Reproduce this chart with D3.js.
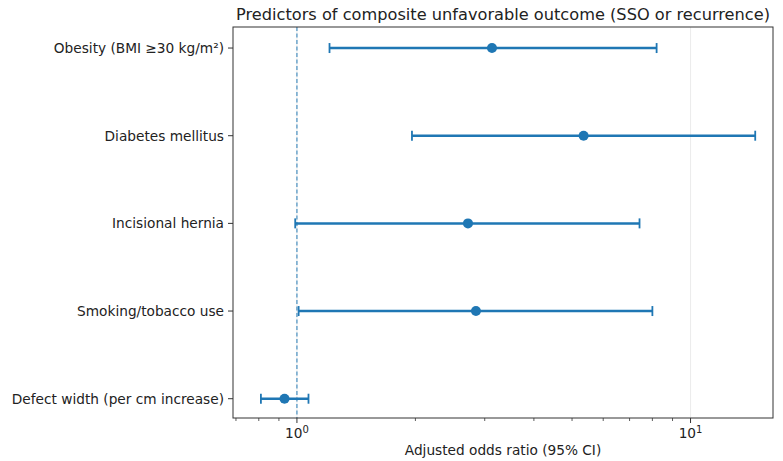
<!DOCTYPE html>
<html>
<head>
<meta charset="utf-8">
<script src="https://cdn.jsdelivr.net/npm/d3@7"></script>
<style>
  body { margin: 0; background: #fff; }
  svg text { font-family: "DejaVu Sans", sans-serif; fill: #222; }
</style>
</head>
<body>
<div id="plot"></div>
<script>
// forest plot data
var predictors = ["Obesity (BMI \u226530 kg/m\u00b2)", "Diabetes mellitus", "Incisional hernia",
                  "Smoking/tobacco use", "Defect width (per cm increase)"];
var oddsRatio = [3.13, 5.35, 2.72, 2.85, 0.93];
var ciLow = [1.21, 1.96, 0.99, 1.01, 0.81];
var ciHigh = [8.2, 14.6, 7.42, 8.0, 1.07];
var majorTicks = [1, 10];
var minorTicks = [0.7, 0.8, 0.9, 2, 3, 4, 5, 6, 7, 8, 9];

var W = 783, H = 461;
var m = {left: 233, right: 10, top: 27, bottom: 43};
var blue = "#1f77b4";
var fs = "13.7px";

var svg = d3.select("#plot").append("svg")
    .attr("width", W).attr("height", H);

var x = d3.scaleLog()
    .domain([0.688, 16.2])
    .range([m.left, W - m.right]);
var y = d3.scaleLinear()
    .domain([-0.24, 4.22])
    .range([m.top, H - m.bottom]);

var rows = predictors.map(function (p, i) {
  return {name: p, or: oddsRatio[i], lo: ciLow[i], hi: ciHigh[i], i: i};
});

// grid at major ticks
svg.selectAll(".grid").data(majorTicks).enter().append("line")
    .attr("x1", d => x(d)).attr("x2", d => x(d))
    .attr("y1", m.top).attr("y2", H - m.bottom)
    .attr("stroke", "#e6e6e6").attr("stroke-width", 0.8);

// reference line at OR = 1
svg.append("line")
    .attr("x1", x(1)).attr("x2", x(1))
    .attr("y1", m.top).attr("y2", H - m.bottom)
    .attr("stroke", blue).attr("stroke-opacity", 0.8)
    .attr("stroke-width", 1.2).attr("stroke-dasharray", "4,2.5");

// error bars
var g = svg.append("g");
g.selectAll(".ci").data(rows).enter().append("line")
    .attr("x1", d => x(d.lo)).attr("x2", d => x(d.hi))
    .attr("y1", d => y(d.i)).attr("y2", d => y(d.i))
    .attr("stroke", blue).attr("stroke-width", 2.5);
["lo", "hi"].forEach(function (k) {
  g.selectAll(".cap" + k).data(rows).enter().append("line")
      .attr("x1", d => x(d[k])).attr("x2", d => x(d[k]))
      .attr("y1", d => y(d.i) - 5).attr("y2", d => y(d.i) + 5)
      .attr("stroke", blue).attr("stroke-width", 1.8);
});
g.selectAll(".pt").data(rows).enter().append("circle")
    .attr("cx", d => x(d.or)).attr("cy", d => y(d.i))
    .attr("r", 5).attr("fill", blue);

// frame
svg.append("rect")
    .attr("x", m.left).attr("y", m.top)
    .attr("width", W - m.right - m.left).attr("height", H - m.bottom - m.top)
    .attr("fill", "none").attr("stroke", "#333").attr("stroke-width", 1);

// x axis ticks
var yb = H - m.bottom;
svg.selectAll(".maj").data(majorTicks).enter().append("line")
    .attr("x1", d => x(d)).attr("x2", d => x(d))
    .attr("y1", yb).attr("y2", yb + 5)
    .attr("stroke", "#333").attr("stroke-width", 1);
svg.selectAll(".min").data(minorTicks).enter().append("line")
    .attr("x1", d => x(d)).attr("x2", d => x(d))
    .attr("y1", yb).attr("y2", yb + 3)
    .attr("stroke", "#333").attr("stroke-width", 0.8);
var tl = svg.selectAll(".tl").data(majorTicks).enter().append("text")
    .attr("x", d => x(d)).attr("y", yb + 20)
    .attr("text-anchor", "middle").attr("font-size", fs);
tl.append("tspan").text("10");
tl.append("tspan").attr("dy", "-5").attr("font-size", "10px")
    .text(d => String(Math.round(Math.log10(d))));

// y axis ticks + labels
svg.selectAll(".yt").data(rows).enter().append("line")
    .attr("x1", m.left - 5).attr("x2", m.left)
    .attr("y1", d => y(d.i)).attr("y2", d => y(d.i))
    .attr("stroke", "#333").attr("stroke-width", 1);
svg.selectAll(".yl").data(rows).enter().append("text")
    .attr("x", m.left - 9).attr("y", d => y(d.i))
    .attr("dy", "0.35em").attr("text-anchor", "end")
    .attr("font-size", fs).text(d => d.name);

// titles
svg.append("text")
    .attr("x", (m.left + W - m.right) / 2).attr("y", 20)
    .attr("text-anchor", "middle").attr("font-size", "16.2px")
    .text("Predictors of composite unfavorable outcome (SSO or recurrence)");
svg.append("text")
    .attr("x", (m.left + W - m.right) / 2).attr("y", 455)
    .attr("text-anchor", "middle").attr("font-size", fs)
    .text("Adjusted odds ratio (95% CI)");
</script>
</body>
</html>
